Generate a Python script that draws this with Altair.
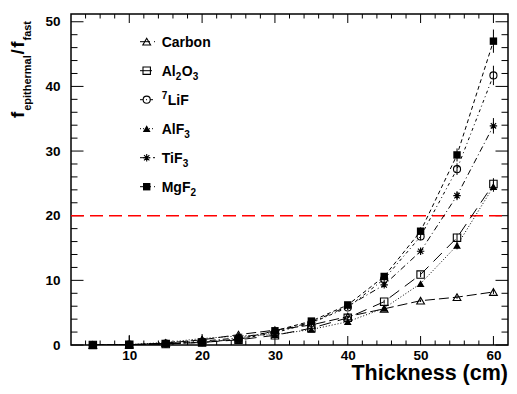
import altair as alt
import pandas as pd

# ---------------- data ----------------
thickness = [5, 10, 15, 20, 25, 30, 35, 40, 45, 50, 55, 60]

carbon = [0.0, 0.05, 0.3, 0.8, 1.6, 2.3, 3.1, 4.4, 5.6, 6.85, 7.4, 8.2]
al2o3 = [0.0, 0.05, 0.15, 0.4, 0.8, 1.5, 2.6, 4.2, 6.7, 10.9, 16.6, 24.9]
lif7 = [0.0, 0.05, 0.2, 0.45, 0.9, 1.9, 3.4, 5.8, 10.2, 16.8, 27.2, 41.7]
alf3 = [0.0, 0.05, 0.4, 1.0, 1.4, 1.6, 2.4, 3.6, 5.7, 9.5, 15.4, 24.5]
tif3 = [0.0, 0.05, 0.25, 0.6, 1.1, 2.1, 3.5, 6.0, 9.3, 14.5, 23.1, 33.9]
mgf2 = [0.0, 0.05, 0.2, 0.4, 0.9, 2.2, 3.7, 6.2, 10.6, 17.6, 29.4, 47.0]

carbon_err = [0.05, 0.1, 0.1, 0.1, 0.1, 0.1, 0.15, 0.15, 0.15, 0.2, 0.25, 0.3]
al2o3_err = [0.05, 0.1, 0.1, 0.1, 0.1, 0.15, 0.2, 0.25, 0.3, 0.4, 0.6, 0.9]
lif7_err = [0.05, 0.1, 0.1, 0.1, 0.1, 0.15, 0.2, 0.3, 0.4, 0.6, 0.9, 1.5]
alf3_err = [0.05, 1.5, 0.3, 0.7, 0.2, 0.2, 0.2, 0.25, 0.3, 0.4, 0.6, 0.8]
tif3_err = [0.05, 0.1, 0.1, 0.1, 0.1, 0.15, 0.2, 0.3, 0.35, 0.5, 0.7, 1.2]
mgf2_err = [0.05, 0.1, 0.1, 0.1, 0.1, 0.15, 0.2, 0.3, 0.4, 0.6, 1.0, 1.8]

series_keys = ["Carbon", "Al2O3", "7LiF", "AlF3", "TiF3", "MgF2"]
series_vals = [carbon, al2o3, lif7, alf3, tif3, mgf2]
series_errs = [carbon_err, al2o3_err, lif7_err, alf3_err, tif3_err, mgf2_err]

# legend label pieces: (text, kind) kind: n normal, sub, sup
legend_labels = [
    [("Carbon", "n")],
    [("Al", "n"), ("2", "sub"), ("O", "n"), ("3", "sub")],
    [("7", "sup"), ("LiF", "n")],
    [("AlF", "n"), ("3", "sub")],
    [("TiF", "n"), ("3", "sub")],
    [("MgF", "n"), ("2", "sub")],
]

x_major = [10, 20, 30, 40, 50, 60]
x_minor = [v for v in range(4, 62, 2) if v % 10]
y_major = [0, 10, 20, 30, 40, 50]
y_minor = [v for v in range(2, 51, 2) if v % 10]
threshold = [20]

x_title = "Thickness (cm)"
y_title_pieces = [("f", "n"), ("epithermal", "sub"), ("/", "n"), ("f", "n"), ("fast", "sub")]

# ---------------- styling ----------------
FONT = "Liberation Sans"
W, H = 437, 331
ASTERISK = "M-1,0L1,0M0,-1L0,1M-0.72,-0.72L0.72,0.72M-0.72,0.72L0.72,-0.72"

styles = {
    "Carbon": dict(shape="triangle-up", filled=False, dash=[10, 4], size=60),
    "Al2O3": dict(shape="square", filled=False, dash=[12, 7], size=55),
    "7LiF": dict(shape="circle", filled=False, dash=[3, 3, 1, 3], size=50),
    "AlF3": dict(shape="triangle-up", filled=True, dash=[1, 2], size=60),
    "TiF3": dict(shape=ASTERISK, filled=False, dash=[6, 3, 1, 3], size=55),
    "MgF2": dict(shape="square", filled=True, dash=[4, 3], size=55),
}

xs = alt.Scale(domain=[2.0, 62.0], nice=False, zero=False)
ys = alt.Scale(domain=[0, 51.2], nice=False, zero=False)

X_AX = alt.Axis(values=x_major, title=None, ticks=False, domain=False, grid=False,
                labelPadding=3, labelFont=FONT, labelFontSize=13.5, labelFontWeight="bold",
                labelColor="black", format="d")
Y_AX = alt.Axis(values=y_major, title=None, ticks=False, domain=False, grid=False,
                labelPadding=11, labelFont=FONT, labelFontSize=13.5, labelFontWeight="bold",
                labelColor="black", format="d")

# Helvetica-bold widths (per 1000 em)
HB = {"C": 722, "a": 556, "r": 389, "b": 611, "o": 611, "n": 611, "A": 722, "l": 278,
      "O": 778, "L": 611, "i": 278, "F": 611, "M": 833, "g": 611, "T": 611,
      "e": 556, "p": 611, "t": 333, "h": 611, "m": 889, "s": 556, "f": 333, "/": 278}


def twidth(s, fs):
    return sum(HB.get(c, 556) for c in s) * fs / 1000.0


layers = []

# tick marks (inward, all four sides)
def tick_layer(vals, axis, length, side):
    df = pd.DataFrame({"t": vals})
    if axis == "x":
        enc = dict(x=alt.X("t:Q", scale=xs, axis=X_AX))
        if side == "bottom":
            enc.update(y=alt.value(H), y2=alt.value(H - length))
        else:
            enc.update(y=alt.value(0), y2=alt.value(length))
    else:
        enc = dict(y=alt.Y("t:Q", scale=ys, axis=Y_AX))
        if side == "left":
            enc.update(x=alt.value(0), x2=alt.value(length))
        else:
            enc.update(x=alt.value(W), x2=alt.value(W - length))
    return alt.Chart(df).mark_rule(color="black", strokeWidth=1).encode(**enc)


layers += [
    tick_layer(x_major, "x", 9, "bottom"), tick_layer(x_minor, "x", 4.5, "bottom"),
    tick_layer(x_major, "x", 9, "top"), tick_layer(x_minor, "x", 4.5, "top"),
    tick_layer(y_major, "y", 12.5, "left"), tick_layer(y_minor, "y", 6.5, "left"),
    tick_layer(y_major, "y", 12.5, "right"), tick_layer(y_minor, "y", 6.5, "right"),
]

# red dashed threshold
layers.append(
    alt.Chart(pd.DataFrame({"thr": threshold})).mark_rule(
        color="#ff0000", strokeWidth=1.6, strokeDash=[13, 6]
    ).encode(y=alt.Y("thr:Q", scale=ys, axis=Y_AX), x=alt.value(0), x2=alt.value(W))
)

# series
for key, vals, errs in zip(series_keys, series_vals, series_errs):
    st = styles[key]
    df = pd.DataFrame({
        "x": thickness, "y": vals,
        "lo": [v - e for v, e in zip(vals, errs)],
        "hi": [v + e for v, e in zip(vals, errs)],
    })
    base = alt.Chart(df)
    layers.append(base.mark_line(color="black", strokeWidth=1, strokeDash=st["dash"], clip=True).encode(
        x=alt.X("x:Q", scale=xs, axis=X_AX), y=alt.Y("y:Q", scale=ys, axis=Y_AX)))
    layers.append(base.mark_rule(color="black", strokeWidth=1, clip=True).encode(
        x=alt.X("x:Q", scale=xs, axis=X_AX), y=alt.Y("lo:Q", scale=ys, axis=Y_AX), y2="hi:Q"))
    layers.append(base.mark_point(shape=st["shape"], filled=st["filled"], size=st["size"],
                                  color="black", opacity=1, strokeWidth=1.1).encode(
        x=alt.X("x:Q", scale=xs, axis=X_AX), y=alt.Y("y:Q", scale=ys, axis=Y_AX)))

# manual legend
one = pd.DataFrame({"a": [0]})
LEG_X0, LEG_X1, LEG_MX, LEG_TX = 69, 84, 75.7, 90.7
for i, (key, pieces) in enumerate(zip(series_keys, legend_labels)):
    st = styles[key]
    ry = 27.7 + 29.0 * i
    layers.append(alt.Chart(one).mark_rule(color="black", strokeWidth=1, strokeDash=st["dash"]).encode(
        x=alt.value(LEG_X0), x2=alt.value(LEG_X1), y=alt.value(ry)))
    layers.append(alt.Chart(one).mark_point(shape=st["shape"], filled=st["filled"], size=st["size"],
                                            color="black", opacity=1, strokeWidth=1.1).encode(
        x=alt.value(LEG_MX), y=alt.value(ry)))
    px = LEG_TX
    for txt, kind in pieces:
        fs = 14 if kind == "n" else 10
        dy = 5 if kind == "n" else (9.5 if kind == "sub" else -0.5)
        layers.append(alt.Chart(one).mark_text(
            text=txt, font=FONT, fontWeight="bold", fontSize=fs, align="left",
            baseline="alphabetic", color="black").encode(x=alt.value(px), y=alt.value(ry + dy)))
        px += twidth(txt, fs) + (0.5 if kind != "n" else 0)

# y title pieces (rotated)
ty = 104
for txt, kind in y_title_pieces:
    fs = 19 if kind == "n" else 11
    bx = -47 if kind == "n" else -40.5
    layers.append(alt.Chart(one).mark_text(
        text=txt, font=FONT, fontWeight="bold", fontSize=fs, align="left",
        baseline="alphabetic", angle=270, color="black").encode(x=alt.value(bx), y=alt.value(ty)))
    ty -= twidth(txt, fs) + (1.5 if txt == "/" else 0.8)

# x title
layers.append(alt.Chart(one).mark_text(
    text=x_title, font=FONT, fontWeight="bold", fontSize=21.5, align="right",
    baseline="alphabetic", color="black").encode(x=alt.value(W), y=alt.value(366)))

chart = alt.layer(*layers).properties(
    width=W, height=H,
    padding={"left": 63, "top": 6, "right": 1, "bottom": 40},
    autosize=alt.AutoSizeParams(type="none"),
    background="white",
).configure_view(stroke="black", strokeWidth=1.5)

chart.save("out.html", embed_options={"renderer": "svg", "actions": False})
